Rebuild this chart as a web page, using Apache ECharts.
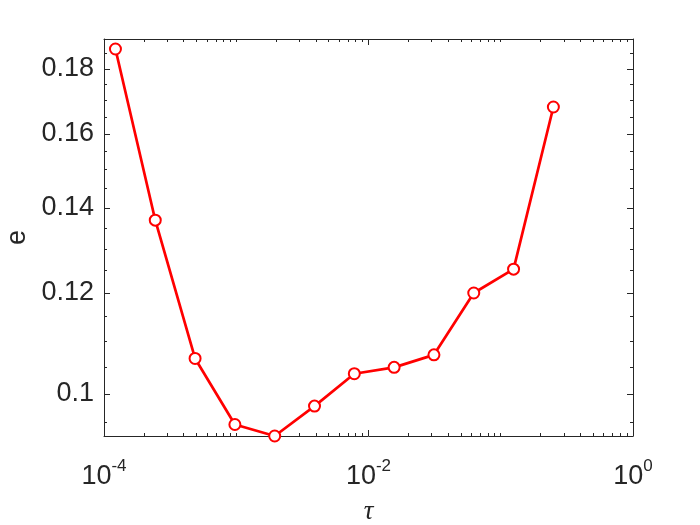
<!DOCTYPE html>
<html>
<head>
<meta charset="utf-8">
<script src="https://cdn.jsdelivr.net/npm/echarts@6/dist/echarts.min.js"></script>
<style>
html,body{margin:0;padding:0;background:#fff;}
#chart{width:700px;height:525px;}
</style>
</head>
<body>
<div id="chart"></div>
<script>
// tau = 2^-13 ... 2^-2
const tauValues = [0.0001220703125, 0.000244140625, 0.00048828125, 0.0009765625, 0.001953125, 0.00390625, 0.0078125, 0.015625, 0.03125, 0.0625, 0.125, 0.25];
const errorValues = [0.1866, 0.1369, 0.1066, 0.0946, 0.09265, 0.0978, 0.1037, 0.1049, 0.1073, 0.1200, 0.1253, 0.1680];

const xMajorTicks = [1e-4, 1e-2, 1];
const xMinorTicks = [2e-4,3e-4,4e-4,5e-4,6e-4,7e-4,8e-4,9e-4,1e-3,2e-3,3e-3,4e-3,5e-3,6e-3,7e-3,8e-3,9e-3,
                     2e-2,3e-2,4e-2,5e-2,6e-2,7e-2,8e-2,9e-2,1e-1,2e-1,3e-1,4e-1,5e-1,6e-1,7e-1,8e-1,9e-1];
const yMajorTicks = [0.1, 0.12, 0.14, 0.16, 0.18];
const yMinorTicks = [0.095,0.105,0.11,0.115,0.125,0.13,0.135,0.145,0.15,0.155,0.165,0.17,0.175,0.185];

const xMin = 1e-4, xMax = 1;
const yMin = 0.09265, yMax = 0.19;

const axisColor = '#262626';
const font = 'Liberation Sans, Arial, Helvetica, sans-serif';

function xAxisDef(pos, major, showLine, showLabel) {
  return {
    type: 'log', logBase: 10, position: pos, min: xMin, max: xMax,
    axisLine: {show: showLine, onZero: false, lineStyle: {color: axisColor, width: 1}},
    axisTick: {show: true, inside: true, length: major ? 6 : 3, customValues: major ? xMajorTicks : xMinorTicks,
               lineStyle: {color: axisColor, width: 1}},
    axisLabel: showLabel ? {
      show: true, customValues: xMajorTicks, margin: 22,
      formatter: function (v) {
        const e = Math.round(Math.log10(v));
        return '{b|10}{s|' + e + '}';
      },
      rich: {
        b: {fontSize: 27, fontFamily: font, color: axisColor, verticalAlign: 'bottom', lineHeight: 32},
        s: {fontSize: 17, fontFamily: font, color: axisColor, verticalAlign: 'top', lineHeight: 32, padding: [0,0,14,0]}
      }
    } : {show: false},
    splitLine: {show: false}, minorTick: {show: false}, minorSplitLine: {show: false}
  };
}
function yAxisDef(pos, major, showLine, showLabel) {
  return {
    type: 'log', logBase: 10, position: pos, min: yMin, max: yMax,
    axisLine: {show: showLine, onZero: false, lineStyle: {color: axisColor, width: 1}},
    axisTick: {show: true, inside: true, length: major ? 6 : 3, customValues: major ? yMajorTicks : yMinorTicks,
               lineStyle: {color: axisColor, width: 1}},
    axisLabel: showLabel ? {
      show: true, customValues: yMajorTicks, margin: 10,
      fontSize: 27, fontFamily: font, color: axisColor,
      formatter: function (v) { return String(parseFloat(Number(v).toFixed(4))); }
    } : {show: false},
    splitLine: {show: false}, minorTick: {show: false}, minorSplitLine: {show: false}
  };
}

const xAxes = [xAxisDef('bottom', true, true, true), xAxisDef('bottom', false, false, false),
               xAxisDef('top', true, true, false), xAxisDef('top', false, false, false)];
xAxes[0].name = 'τ';
xAxes[0].nameLocation = 'middle';
xAxes[0].nameGap = 62;
xAxes[0].nameTextStyle = {fontSize: 27, fontFamily: 'Liberation Serif, Times New Roman, serif', fontStyle: 'italic', color: axisColor};

const yAxes = [yAxisDef('left', true, true, true), yAxisDef('left', false, false, false),
               yAxisDef('right', true, true, false), yAxisDef('right', false, false, false)];
yAxes[0].name = 'e';
yAxes[0].nameLocation = 'middle';
yAxes[0].nameGap = 67;
yAxes[0].nameTextStyle = {fontSize: 27, fontFamily: font, color: axisColor};

const chart = echarts.init(document.getElementById('chart'), null, {renderer: 'canvas'});
chart.setOption({
  animation: false,
  backgroundColor: '#ffffff',
  grid: {left: 104, right: 67, top: 39, bottom: 89, containLabel: false, outerBoundsMode: 'none'},
  xAxis: xAxes,
  yAxis: yAxes,
  series: [{
    type: 'line',
    xAxisIndex: 0, yAxisIndex: 0,
    data: tauValues.map((t, i) => [t, errorValues[i]]),
    symbol: 'emptyCircle', symbolSize: 11,
    lineStyle: {color: '#ff0000', width: 2.7},
    itemStyle: {color: '#ff0000', borderColor: '#ff0000', borderWidth: 2.5},
    clip: false
  }]
});
</script>
</body>
</html>
